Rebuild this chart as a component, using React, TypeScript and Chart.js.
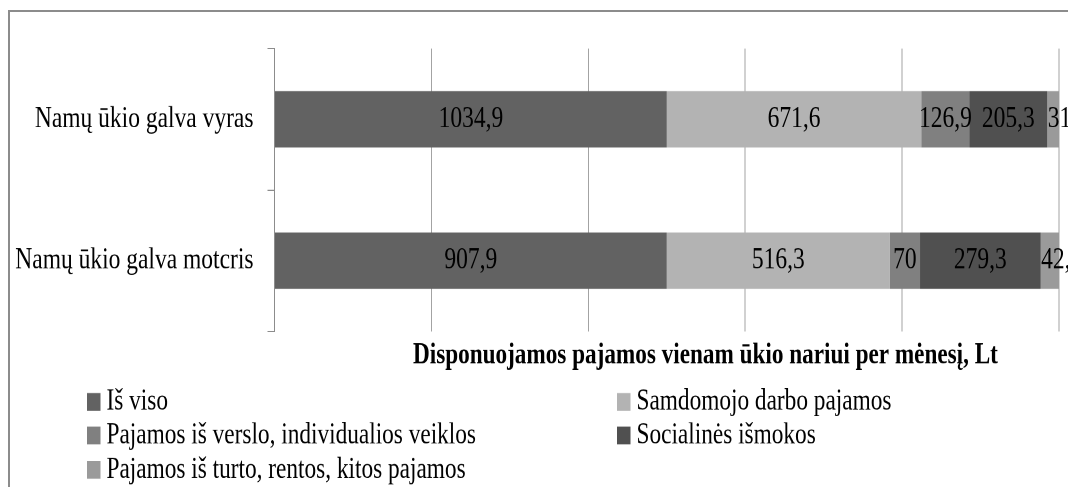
import React, { useEffect, useRef } from 'react';
import { Chart, registerables } from 'chart.js';

Chart.register(...registerables);

// ---- data ----
const categories = ['Namų ūkio galva vyras', 'Namų ūkio galva motcris'];
const seriesNames = [
  'Iš viso',
  'Samdomojo darbo pajamos',
  'Pajamos iš verslo, individualios veiklos',
  'Socialinės išmokos',
  'Pajamos iš turto, rentos, kitos pajamos',
];
const isViso = [1034.9, 907.9];
const samdomojo = [671.6, 516.3];
const verslo = [126.9, 70];
const socialines = [205.3, 279.3];
const turto = [31, 42.4];
const seriesColors = ['#626262', '#b3b3b3', '#808080', '#505050', '#9a9a9a'];
const axisTitle = 'Disponuojamos pajamos vienam ūkio nariui per mėnesį, Lt';
const percentTicks = [0, 20, 40, 60, 80, 100];

const seriesValues = [isViso, samdomojo, verslo, socialines, turto];

// ---- geometry (logical canvas is stretched vertically when displayed) ----
const CSS_W = 1058;
const CSS_H = 475;
const LOG_H = 365;
const SERIF = '"Liberation Serif", "Times New Roman", serif';

const fmt = (v: number) => String(v).replace('.', ',');

const segLabels = {
  id: 'segLabels',
  afterDatasetsDraw(chart: any) {
    const ctx = chart.ctx;
    ctx.save();
    ctx.font = `23.5px ${SERIF}`;
    ctx.fillStyle = '#000';
    ctx.textBaseline = 'middle';
    const last = chart.data.datasets.length - 1;
    chart.data.datasets.forEach((_ds: any, di: number) => {
      const meta = chart.getDatasetMeta(di);
      meta.data.forEach((el: any, i: number) => {
        const { x, y, base } = el.getProps(['x', 'y', 'base'], true);
        if (di === last) {
          // narrow end segments: label anchored at the segment's base
          ctx.textAlign = 'left';
          ctx.fillText(fmt(seriesValues[di][i]), Math.min(x, base) + 0.5, y);
        } else {
          ctx.textAlign = 'center';
          ctx.fillText(fmt(seriesValues[di][i]), (x + base) / 2, y);
        }
      });
    });
    ctx.restore();
  },
};

const titleAndLegend = {
  id: 'titleAndLegend',
  afterDraw(chart: any) {
    const ctx = chart.ctx;
    ctx.save();
    // axis title
    ctx.font = `bold 23.2px ${SERIF}`;
    ctx.fillStyle = '#000';
    ctx.textAlign = 'left';
    ctx.textBaseline = 'middle';
    ctx.fillText(axisTitle, 403, 264);
    // legend in two columns
    const colSquareX = [77, 607];
    const rowY = [299.6, 325.4, 351.8];
    ctx.font = `23.3px ${SERIF}`;
    seriesNames.forEach((name, i) => {
      const col = i % 2;
      const row = Math.floor(i / 2);
      const sx = colSquareX[col];
      const cy = rowY[row];
      ctx.fillStyle = seriesColors[i];
      ctx.fillRect(sx, cy - 6.8, 13.5, 13.6);
      ctx.fillStyle = '#000';
      ctx.fillText(name, sx + 19.5, cy);
    });
    ctx.restore();
  },
};

export default function App() {
  const ref = useRef<HTMLCanvasElement | null>(null);

  useEffect(() => {
    if (!ref.current) return;
    const totals = categories.map((_c, i) =>
      seriesValues.reduce((s, arr) => s + arr[i], 0)
    );
    const chart = new Chart(ref.current, {
      type: 'bar',
      data: {
        labels: categories,
        datasets: seriesNames.map((name, di) => ({
          label: name,
          data: seriesValues[di].map((v, i) => (v / totals[i]) * 100),
          backgroundColor: seriesColors[di],
          borderWidth: 0,
          barPercentage: 0.4,
          categoryPercentage: 1,
        })),
      },
      options: {
        indexAxis: 'y',
        responsive: false,
        maintainAspectRatio: false,
        devicePixelRatio: 2,
        animation: false,
        events: [],
        layout: { padding: { left: 0, right: 9, top: 23.3, bottom: 119.6 } },
        plugins: {
          legend: { display: false },
          title: { display: false },
          tooltip: { enabled: false },
        },
        scales: {
          x: {
            type: 'linear',
            stacked: true,
            min: percentTicks[0],
            max: percentTicks[percentTicks.length - 1],
            afterBuildTicks: (s: any) => {
              s.ticks = percentTicks.map((v) => ({ value: v }));
            },
            ticks: { display: false },
            grid: { color: '#a3a3a3', lineWidth: 1, drawTicks: false },
            border: { display: false },
            afterFit: (s: any) => {
              s.height = 0;
            },
          },
          y: {
            type: 'category',
            stacked: true,
            grid: {
              drawOnChartArea: false,
              drawTicks: true,
              tickLength: 7,
              color: '#8c8c8c',
              offset: true,
            },
            border: { display: true, color: '#8c8c8c', width: 1 },
            ticks: {
              color: '#000',
              padding: 14,
              font: { family: SERIF, size: 23.5 },
            },
            afterFit: (s: any) => {
              s.width = 264.5;
            },
          },
        },
      },
      plugins: [segLabels, titleAndLegend],
    });
    return () => chart.destroy();
  }, []);

  return (
    <div
      style={{
        position: 'fixed',
        left: 8,
        top: 10,
        width: CSS_W,
        height: CSS_H,
        borderTop: '2px solid #8c8c8c',
        borderLeft: '2px solid #8c8c8c',
        overflow: 'hidden',
        background: '#fff',
      }}
    >
      <canvas
        ref={ref}
        width={CSS_W}
        height={LOG_H}
        style={{ width: `${CSS_W}px`, height: `${CSS_H}px`, display: 'block' }}
      />
    </div>
  );
}
